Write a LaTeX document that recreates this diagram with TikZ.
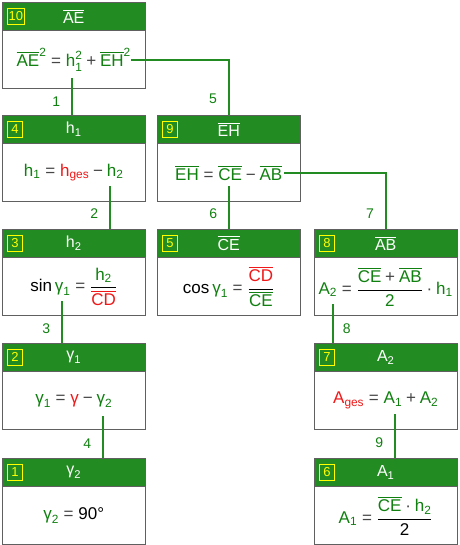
\documentclass[tikz,border=0pt]{standalone}
\usepackage{amsmath}
\usepackage{fontspec}
\setmainfont{Liberation Sans}
\usepackage{tikz}
\usetikzlibrary{positioning, calc}
\definecolor{headgreen}{RGB}{34,139,34}
\definecolor{termgreen}{RGB}{16,128,16}
\definecolor{termred}{RGB}{240,24,24}
\definecolor{opgray}{RGB}{70,70,70}
\definecolor{framegray}{RGB}{96,96,96}
\definecolor{tagyellow}{RGB}{255,255,0}
\newcommand{\tx}[1]{\text{#1}}
\newcommand{\ovl}[1]{\overline{\text{#1}}}
\newcommand{\gr}[1]{{\color{termgreen}#1}}
\newcommand{\rd}[1]{{\color{termred}#1}}
\newcommand{\eq}{\mathrel{\text{\color{opgray}=}}}
\newcommand{\pl}{\mathbin{\text{\color{opgray}+}}}
\newcommand{\mi}{\mathbin{\text{\color{opgray}−}}}
\newcommand{\cdt}{\mathbin{\text{\color{opgray}·}}}
\tikzset{
  headbox/.style={
    rectangle, draw=framegray, fill=headgreen, text=white,
    minimum width=143pt, minimum height=28pt, inner sep=0pt,
    anchor=north west, font=\fontsize{16}{19}\selectfont
  },
  bodybox/.style={
    rectangle, draw=framegray, fill=white,
    minimum width=143pt, minimum height=58pt, inner sep=0pt,
    font=\fontsize{17}{20}\selectfont
  },
  tagbox/.style={
    rectangle, draw=tagyellow, text=tagyellow, line width=0.8pt,
    minimum width=15pt, minimum height=16pt, inner sep=1.2pt,
    font=\fontsize{13}{15}\selectfont
  },
  link/.style={draw=headgreen, line width=1.6pt},
  steplabel/.style={text=termgreen, inner sep=0pt, font=\fontsize{14}{16}\selectfont}
}
\begin{document}
\begin{tikzpicture}[x=1pt, y=-1pt]
\useasboundingbox (0,0) rectangle (459,545);

% headers
\node[headbox] (h10) at (2,2)     {$\ovl{AE}$};
\node[headbox] (h4)  at (2,115)   {$\tx{h}_{\tx{1}}$};
\node[headbox] (h9)  at (157,115) {$\ovl{EH}$};
\node[headbox] (h3)  at (2,229)   {$\tx{h}_{\tx{2}}$};
\node[headbox] (h5)  at (157,229) {$\ovl{CE}$};
\node[headbox] (h8)  at (314,229) {$\ovl{AB}$};
\node[headbox] (h2)  at (2,343)   {$\tx{γ}_{\tx{1}}$};
\node[headbox] (h7)  at (314,343) {$\tx{A}_{\tx{2}}$};
\node[headbox] (h1)  at (2,458)   {$\tx{γ}_{\tx{2}}$};
\node[headbox] (h6)  at (314,458) {$\tx{A}_{\tx{1}}$};

\foreach \n in {10,4,9,3,5,8,2,7,1,6}
  \node[tagbox, right=5pt of h\n.west] (t\n) {\n};

% formulas
\node[bodybox, below=0pt of h10] (b10) {$\gr{\ovl{AE}^{\tx{2}}} \eq \gr{\tx{h}^{\tx{2}}_{\tx{1}}} \pl \gr{\ovl{EH}^{\tx{2}}}$};
\node[bodybox, below=0pt of h4] (b4) {$\gr{\tx{h}_{\tx{1}}} \eq \rd{\tx{h}_{\tx{ges}}} \mi \gr{\tx{h}_{\tx{2}}}$};
\node[bodybox, below=0pt of h9] (b9) {$\gr{\ovl{EH}} \eq \gr{\ovl{CE}} \mi \gr{\ovl{AB}}$};
\node[bodybox, below=0pt of h3] (b3) {$\tx{sin}\,\gr{\tx{γ}_{\tx{1}}} \eq \dfrac{\gr{\tx{h}_{\tx{2}}}}{\rd{\ovl{CD}}}$};
\node[bodybox, below=0pt of h5] (b5) {$\tx{cos}\,\gr{\tx{γ}_{\tx{1}}} \eq \dfrac{\rd{\ovl{CD}}}{\gr{\ovl{CE}}}$};
\node[bodybox, below=0pt of h8] (b8) {$\gr{\tx{A}_{\tx{2}}} \eq \dfrac{\gr{\ovl{CE}} \pl \gr{\ovl{AB}}}{\gr{\tx{2}}} \cdt \gr{\tx{h}_{\tx{1}}}$};
\node[bodybox, below=0pt of h2] (b2) {$\gr{\tx{γ}_{\tx{1}}} \eq \rd{\tx{γ}} \mi \gr{\tx{γ}_{\tx{2}}}$};
\node[bodybox, below=0pt of h7] (b7) {$\rd{\tx{A}_{\tx{ges}}} \eq \gr{\tx{A}_{\tx{1}}} \pl \gr{\tx{A}_{\tx{2}}}$};
\node[bodybox, below=0pt of h1] (b1) {$\gr{\tx{γ}_{\tx{2}}} \eq \tx{90°}$};
\node[bodybox, below=0pt of h6] (b6) {$\gr{\tx{A}_{\tx{1}}} \eq \dfrac{\gr{\ovl{CE}} \cdt \gr{\tx{h}_{\tx{2}}}}{\tx{2}}$};

% where the links leave the formulas
\coordinate (src1) at (72,78);
\coordinate (src5) at (131,60);
\coordinate (src2) at (110,186);
\coordinate (src6) at (229,186);
\coordinate (src7) at (284,173);
\coordinate (src3) at (62,301);
\coordinate (src4) at (103,416);
\coordinate (src8) at (333,304);
\coordinate (src9) at (395,414);

\foreach \s/\t/\n in {src1/h4/1, src2/h3/2, src6/h5/6, src3/h2/3, src4/h1/4, src9/h6/9}
  \draw[link] (\s) -- node[steplabel, pos=.65, left=11pt] {\n} (\s |- \t.north);
\draw[link] (src8) -- node[steplabel, pos=.63, right=9pt] {8} (src8 |- h7.north);
\draw[link] (src5) -| node[steplabel, pos=.85, left=11pt] {5} (h9.north);
\draw[link] (src7) -| node[steplabel, pos=.86, left=11pt] {7} (h8.north);
\end{tikzpicture}
\end{document}
